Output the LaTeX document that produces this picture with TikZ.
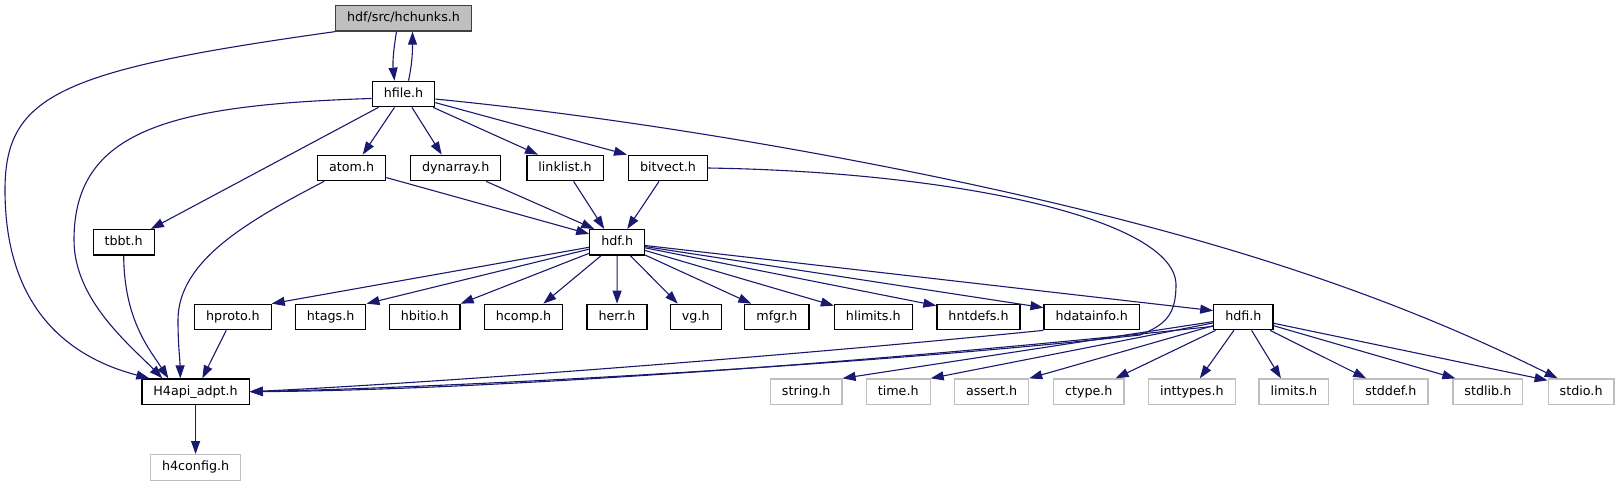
\documentclass[tikz,border=0pt]{standalone}
\usepackage{fontspec}
\setmainfont{DejaVu Sans}
\usepackage{xcolor}
\usepackage{tikz}
\usetikzlibrary{positioning,arrows.meta}
\definecolor{edgeblue}{HTML}{191970}
\definecolor{greyframe}{HTML}{BFBFBF}
\definecolor{rootframe}{HTML}{404040}

\begin{document}
\begin{tikzpicture}[
    x=1pt, y=-1pt,
    every node/.style={draw, line width=1.2pt, minimum height=25.5pt, inner xsep=11.5pt, inner ysep=0pt,
        text height=9.6pt, text depth=2.6pt, font=\fontsize{12.7pt}{15pt}\selectfont},
    sys/.style={draw=greyframe},
    root/.style={draw=rootframe, fill=greyframe},
    inc/.style={draw=edgeblue, line width=1.1pt, -{Triangle[length=13pt,width=9pt]}}
]
\useasboundingbox (0,0) rectangle (1621,485);

\node (hchunks) [root] at (403.5,18.3) {hdf/src/hchunks.h};
\node (hfile) [below=49pt of hchunks] {hfile.h};
\node (atom) at (351.7,168) {atom.h};
\node (dynarray) at (455.7,168) {dynarray.h};
\node (linklist) at (565,168) {linklist.h};
\node (bitvect) at (668,168) {bitvect.h};
\node (tbbt) at (123.7,242.3) {tbbt.h};
\node (hdf) at (617.2,242.3) {hdf.h};
\node (hproto) at (232.9,317) {hproto.h};
\node (htags) at (330.6,317) {htags.h};
\node (hbitio) at (424.7,317) {hbitio.h};
\node (hcomp) at (523.6,317) {hcomp.h};
\node (herr) at (617,317) {herr.h};
\node (vg) at (695.8,317) {vg.h};
\node (mfgr) at (776.9,317) {mfgr.h};
\node (hlimits) at (873.3,317) {hlimits.h};
\node (hntdefs) at (978.5,317) {hntdefs.h};
\node (hdatainfo) at (1091.7,317) {hdatainfo.h};
\node (hdfi) at (1243.4,317) {hdfi.h};
\node (adpt) at (195.6,391.7) {H4api\_adpt.h};
\node (hconfig) [sys, below=49pt of adpt] {h4config.h};
\node (stringh) [sys] at (806.2,391.7) {string.h};
\node (timeh) [sys] at (898.2,391.7) {time.h};
\node (asserth) [sys] at (991.6,391.7) {assert.h};
\node (ctypeh) [sys] at (1088.8,391.7) {ctype.h};
\node (inttypesh) [sys] at (1191.8,391.7) {inttypes.h};
\node (limitsh) [sys] at (1293.9,391.7) {limits.h};
\node (stddefh) [sys] at (1390.9,391.7) {stddef.h};
\node (stdlibh) [sys] at (1487.9,391.7) {stdlib.h};
\node (stdioh) [sys] at (1581.1,391.7) {stdio.h};

\draw[inc] ([xshift=-7pt]hchunks.south) .. controls +(-3,18) and +(-2,-18) .. ([xshift=-9pt]hfile.north);
\draw[inc] ([xshift=5pt]hfile.north) .. controls +(4,-18) and +(0,18) .. ([xshift=9pt]hchunks.south);
\draw[inc] (hchunks.south west) .. controls (60,70) and (5,95) .. (5,190) .. controls (5,300) and (60,355) .. ([xshift=8pt]adpt.north west);
\draw[inc] (hfile.188) .. controls (170,105) and (74,130) .. (74,240) .. controls (74,300) and (130,345) .. ([xshift=21pt]adpt.north west);
\draw[inc] (hfile) -- ([xshift=-4pt]tbbt.north east);
\draw[inc] (hfile) -- ([xshift=11pt]atom.north);
\draw[inc] (hfile) -- ([xshift=-14pt]dynarray.north);
\draw[inc] (hfile) -- ([xshift=-27pt]linklist.north);
\draw[inc] (hfile) -- ([xshift=-41pt]bitvect.north);
\draw[inc] (hfile.-9) .. controls (650,120) and (900,165) .. (1083,210) .. controls (1250,251) and (1400,300) .. ([xshift=10pt]stdioh.north west);
\draw[inc] (atom) -- ([yshift=-5pt]hdf.north west);
\draw[inc] ([xshift=7pt]atom.south west) .. controls (250,220) and (178,260) .. (178,320) .. controls (178,345) and (180,360) .. ([xshift=39pt]adpt.north west);
\draw[inc] (dynarray) -- ([xshift=5pt]hdf.north west);
\draw[inc] (linklist) -- ([xshift=15pt]hdf.north west);
\draw[inc] (bitvect) -- ([xshift=38pt]hdf.north west);
\draw[inc] (bitvect.east) .. controls (960,172) and (1176,220) .. (1176,285) .. controls (1176,315) and (1165,325) .. (1140,335) .. controls (900,362) and (500,386) .. (adpt.east);
\draw[inc] (tbbt.south) .. controls (124,320) and (150,350) .. ([xshift=27pt]adpt.north west);
\draw[inc] (hdf) -- (hproto.north east);
\draw[inc] (hdf) -- (htags.north east);
\draw[inc] (hdf) -- (hbitio.north east);
\draw[inc] (hdf) -- ([xshift=-20pt]hcomp.north east);
\draw[inc] (hdf) -- (herr);
\draw[inc] (hdf) -- ([xshift=-18pt]vg.north);
\draw[inc] (hdf) -- ([xshift=7pt]mfgr.north west);
\draw[inc] (hdf) -- ([yshift=-2pt]hlimits.north west);
\draw[inc] (hdf) -- ([yshift=-2pt]hntdefs.north west);
\draw[inc] (hdf) -- ([yshift=-4pt]hdatainfo.north west);
\draw[inc] (hdf) -- ([yshift=-7pt]hdfi.north west);
\draw[inc] (hproto) -- ([xshift=61pt]adpt.north west);
\draw[inc] (hdatainfo.south west) .. controls (800,355) and (450,382) .. (adpt.east);
\draw[inc] ([yshift=4pt]hdfi.south west) .. controls (900,360) and (500,390) .. (adpt.east);
\draw[inc] (hdfi) -- (stringh.north east);
\draw[inc] (hdfi) -- (timeh.north east);
\draw[inc] (hdfi) -- (asserth.north east);
\draw[inc] (hdfi) -- ([xshift=-9pt]ctypeh.north east);
\draw[inc] (hdfi) -- ([xshift=8pt]inttypesh.north);
\draw[inc] (hdfi) -- ([xshift=-13pt]limitsh.north);
\draw[inc] (hdfi) -- ([xshift=13pt]stddefh.north west);
\draw[inc] (hdfi) -- ([xshift=3pt]stdlibh.north west);
\draw[inc] (hdfi) -- ([yshift=-2pt]stdioh.north west);
\draw[inc] (adpt) -- (hconfig);
\end{tikzpicture}
\end{document}
